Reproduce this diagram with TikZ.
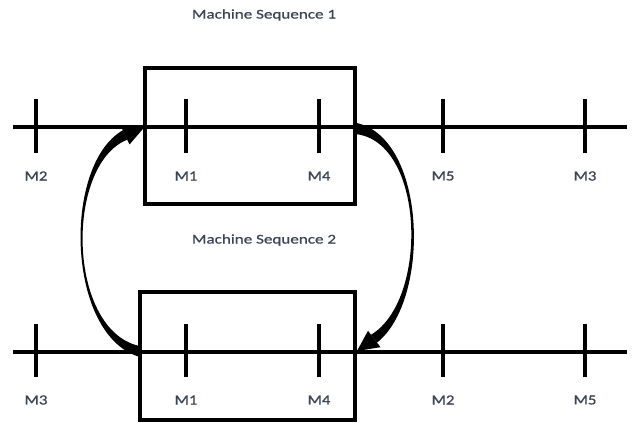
\documentclass[tikz,border=0pt]{standalone}
\usepackage{fontspec}
\newfontfamily\titlefont[FakeStretch=1.28,FakeBold=0.8]{Carlito}
\newfontfamily\labelfont[FakeStretch=1.2,FakeBold=0.8]{Carlito}
\definecolor{txt}{HTML}{3A4454}
\begin{document}
\begin{tikzpicture}[x=0.75pt,y=-0.75pt,
  axis/.style={line width=3pt},
  tick/.style={line width=3pt},
  frame/.style={line width=3pt},
  seqtitle/.style={font=\titlefont\fontsize{10}{12}\selectfont, text=txt, inner sep=0},
  mlabel/.style={font=\labelfont\fontsize{10.5}{12}\selectfont, text=txt, inner sep=0},
  swap/.style={fill=black, draw=none}]
\useasboundingbox (0,0) rectangle (632,423);

% titles
\node[seqtitle] (t1) at (264,15) {Machine Sequence 1};
\node[seqtitle] (t2) at (264,240) {Machine Sequence 2};

% sequence lines
\coordinate (l1a) at (13,127);  \coordinate (l1b) at (627,127);
\coordinate (l2a) at (13,352);  \coordinate (l2b) at (627,352);
\draw[axis] (l1a) -- (l1b);
\draw[axis] (l2a) -- (l2b);

% highlighted blocks
\draw[frame] (145,68) rectangle (355,204);
\draw[frame] (140,292) rectangle (355,420);

% machine ticks and labels, sequence 1
\foreach \x/\m [count=\i] in {36/M2,186/M1,319/M4,443/M5,585/M3}{
  \draw[tick] (\x,99) -- (\x,153);
  \node[mlabel] (a\i) at (\x,176) {\m};
}
% machine ticks and labels, sequence 2
\foreach \x/\m [count=\i] in {36/M3,186/M1,319/M4,443/M2,585/M5}{
  \draw[tick] (\x,324) -- (\x,377);
  \node[mlabel] (b\i) at (\x,400) {\m};
}

% left swap arrow: tapered shaft (thick at both ends) and head
\fill[swap] (140,357) .. controls (66,336) and (62,165) .. (122.8,130.3)
  -- (127.2,139.7) .. controls (64,165) and (67,334) .. (142,346.5) -- cycle;
\fill[swap] (145,126.5) -- (120.5,125.5) -- (125,135) -- (129.5,144.5) -- cycle;

% right swap arrow: tapered shaft and head
\fill[swap] (356.8,123) .. controls (427,139) and (431,300) .. (377,342.6)
  -- (371,334.8) .. controls (429,300) and (425,141) .. (355.2,134) -- cycle;
\fill[swap] (357,351) -- (368,330.8) -- (374,338.7) -- (380.5,347.2) -- cycle;
\end{tikzpicture}
\end{document}
